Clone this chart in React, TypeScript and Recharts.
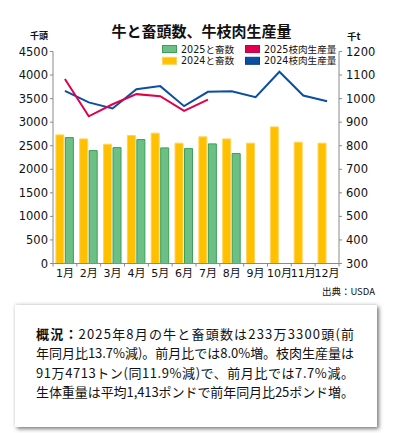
import React from 'react';
import { ComposedChart, Bar, Line, XAxis, YAxis } from 'recharts';

const months = ['1月', '2月', '3月', '4月', '5月', '6月', '7月', '8月', '9月', '10月', '11月', '12月'];
const cattle2024 = [2730, 2645, 2532, 2716, 2766, 2554, 2688, 2645, 2554, 2900, 2575, 2554];
const cattle2025: (number | null)[] = [2673, 2396, 2460, 2631, 2454, 2439, 2539, 2333, null, null, null, null];
const beef2024 = [1033, 984, 958, 1040, 1053, 968, 1029, 1031, 1006, 1114, 1013, 989];
const beef2025: (number | null)[] = [1083, 925, 976, 1019, 1010, 948, 996, null, null, null, null, null];

const leftTicks = [0, 500, 1000, 1500, 2000, 2500, 3000, 3500, 4000, 4500];
const rightTicks = [300, 400, 500, 600, 700, 800, 900, 1000, 1100, 1200];

const title = '牛と畜頭数、牛枝肉生産量';
const leftUnit = '千頭';
const rightUnit = '千t';
const source = '出典：USDA';
const legendCol1 = [
  { label: '2025と畜数', fill: '#6dbf85', stroke: '#3a9f59' },
  { label: '2024と畜数', fill: '#ffc000', stroke: '#ffd25a' },
];
const legendCol2 = [
  { label: '2025枝肉生産量', fill: '#e0004d', stroke: '#c80044' },
  { label: '2024枝肉生産量', fill: '#0b4ea2', stroke: '#0a3f86' },
];
const noteBold = '概況：';
const noteLines = [
  '2025年8月の牛と畜頭数は233万3300頭(前',
  '年同月比13.7%減)。前月比では8.0%増。枝肉生産量は',
  '91万4713トン(同11.9%減)で、前月比では7.7%減。',
  '生体重量は平均1,413ポンドで前年同月比25ポンド増。',
];

const data = months.map((m, i) => ({
  month: m,
  c2024: cattle2024[i],
  c2025: cattle2025[i],
  b2024: beef2024[i],
  b2025: beef2025[i],
}));

const NUM_FONT = '"DejaVu Sans", "Noto Sans CJK JP", sans-serif';
const JP_FONT = '"Noto Sans CJK JP", sans-serif';
const AXIS = '#8a8a8a';
const ROW = 11.8;

const MonthTick = (props: any) => {
  const { x, y, payload, index, visibleTicksCount, width } = props;
  const off = payload && payload.offset ? payload.offset : width / visibleTicksCount / 2;
  return (
    <g>
      <line x1={x - off} x2={x - off} y1={y} y2={y + 3} stroke={AXIS} />
      {index === visibleTicksCount - 1 && (
        <line x1={x + off} x2={x + off} y1={y} y2={y + 3} stroke={AXIS} />
      )}
      <text x={x} y={y + 13.5} textAnchor="middle" fontSize={11} fill="#111" fontFamily={NUM_FONT}>
        {payload.value}
      </text>
    </g>
  );
};

const LegendRow = ({ items, left }: { items: typeof legendCol1; left: number }) => (
  <svg
    width={100}
    height={26}
    style={{ position: 'absolute', left, top: 42.5, overflow: 'visible' }}
  >
    {items.map((it, i) => (
      <g key={it.label}>
        <rect x={0.5} y={2.5 + i * ROW} width={14} height={7} fill={it.fill} stroke={it.stroke} />
        <text x={19} y={9.6 + i * ROW} fontSize={9.6} fontFamily={NUM_FONT} fill="#111">
          {it.label}
        </text>
      </g>
    ))}
  </svg>
);

export default function App() {
  return (
    <div style={{ position: 'absolute', left: 0, top: 0, width: 393, height: 433, background: '#fff' }}>
      <div
        style={{
          position: 'absolute',
          left: 0,
          width: 393,
          top: 21,
          textAlign: 'center',
          fontFamily: JP_FONT,
          fontWeight: 'bold',
          fontSize: 15,
          lineHeight: '20px',
          color: '#111',
          paddingLeft: 10,
          boxSizing: 'border-box',
        }}
      >
        {title}
      </div>
      <div style={{ position: 'absolute', left: 30, top: 30, fontFamily: JP_FONT, fontWeight: 'bold', fontSize: 9, lineHeight: '12px', color: '#111' }}>
        {leftUnit}
      </div>
      <div style={{ position: 'absolute', left: 347, top: 30, fontFamily: JP_FONT, fontWeight: 'bold', fontSize: 9.5, lineHeight: '12px', color: '#111' }}>
        {rightUnit}
      </div>

      <div style={{ position: 'absolute', left: 0, top: 0 }}>
        <ComposedChart
          width={393}
          height={285}
          data={data}
          margin={{ top: 51.5, right: 0, bottom: 0, left: 0 }}
          barCategoryGap="12%"
          barGap={1.5}
        >
          <XAxis
            dataKey="month"
            xAxisId="x"
            height={21.5}
            stroke={AXIS}
            tickLine={false}
            tickSize={0}
            tickMargin={0}
            interval={0}
            tick={<MonthTick />}
          />
          <YAxis
            yAxisId="left"
            orientation="left"
            width={53}
            domain={[0, 4500]}
            ticks={leftTicks}
            interval={0}
            stroke={AXIS}
            tickSize={3}
            tickMargin={2}
            tick={{ fontSize: 11.5, fill: '#111', fontFamily: NUM_FONT }}
          />
          <YAxis
            yAxisId="right"
            orientation="right"
            width={54}
            domain={[300, 1200]}
            ticks={rightTicks}
            interval={0}
            stroke={AXIS}
            tickSize={3}
            tickMargin={4}
            tick={{ fontSize: 11.5, fill: '#111', fontFamily: NUM_FONT, textAnchor: 'start' }}
          />
          <Bar xAxisId="x" yAxisId="left" dataKey="c2024" fill="#ffc000" stroke="#ffd35e" strokeWidth={1} isAnimationActive={false} />
          <Bar xAxisId="x" yAxisId="left" dataKey="c2025" fill="#6dbf85" stroke="#3a9f59" strokeWidth={1} isAnimationActive={false} />
          <Line xAxisId="x" yAxisId="right" dataKey="b2024" stroke="#0b4ea2" strokeWidth={2} dot={false} isAnimationActive={false} />
          <Line xAxisId="x" yAxisId="right" dataKey="b2025" stroke="#e0004d" strokeWidth={2} dot={false} isAnimationActive={false} />
        </ComposedChart>
      </div>

      <LegendRow items={legendCol1} left={162} />
      <LegendRow items={legendCol2} left={245} />

      <div style={{ position: 'absolute', right: 18, top: 285, fontFamily: JP_FONT, fontSize: 9.5, lineHeight: '12px', color: '#111' }}>
        {source}
      </div>

      <div
        style={{
          position: 'absolute',
          left: 15,
          top: 305,
          width: 362,
          height: 122,
          background: '#fff',
          boxShadow: '2px 2px 4px rgba(0,0,0,0.5), 0 -1px 3px rgba(0,0,0,0.12)',
        }}
      >
        <svg width={362} height={122} style={{ display: 'block' }}>
          {noteLines.map((line, i) => (
            <text
              key={i}
              x={21}
              y={34 + i * 19.35}
              fontSize={13}
              fontFamily={JP_FONT}
              fill="#111"
              textLength={318}
              lengthAdjust="spacing"
            >
              {i === 0 && <tspan fontWeight="bold">{noteBold}</tspan>}
              {line}
            </text>
          ))}
        </svg>
      </div>
    </div>
  );
}
